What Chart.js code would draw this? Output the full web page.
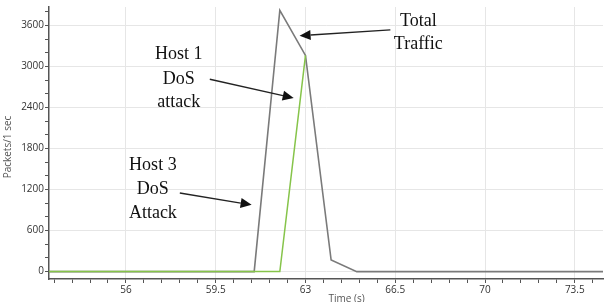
<!DOCTYPE html>
<html>
<head>
<meta charset="utf-8">
<script src="https://cdn.jsdelivr.net/npm/chart.js@4/dist/chart.umd.min.js"></script>
<style>
  html, body { margin: 0; padding: 0; background: #ffffff; }
  #wrap { width: 609px; height: 302px; position: relative; }
</style>
</head>
<body>
<div id="wrap"><canvas id="c" width="609" height="302"></canvas></div>
<script>
// ---- data ----
const timeSeconds   = [53, 54, 55, 56, 57, 58, 59, 60, 61, 62, 63, 64, 65, 66, 67, 68, 69, 70, 71, 72, 73, 74, 75];
const totalTraffic  = [0, 0, 0, 0, 0, 0, 0, 0, 0, 3820, 3160, 170, 0, 0, 0, 0, 0, 0, 0, 0, 0, 0, 0];
const host1Traffic  = [0, 0, 0, 0, 0, 0, 0, 0, 0, 0, 3160, null, null, null, null, null, null, null, null, null, null, null, null];
const xMajorTicks   = [56, 59.5, 63, 66.5, 70, 73.5];
const yMajorTicks   = [0, 600, 1200, 1800, 2400, 3000, 3600];
const xTitle = 'Time (s)';
const yTitle = 'Packets/1 sec';

// annotation texts and arrows (in data units)
const noteTexts = [
  { text: 'Host 1', t: 58.06, v: 3173 },
  { text: 'DoS',    t: 58.06, v: 2812 },
  { text: 'attack', t: 58.06, v: 2480 },
  { text: 'Host 3', t: 57.05, v: 1554 },
  { text: 'DoS',    t: 57.05, v: 1207 },
  { text: 'Attack', t: 57.05, v: 860 },
  { text: 'Total',  t: 67.40, v: 3665 },
  { text: 'Traffic',t: 67.40, v: 3318 }
];
const noteArrows = [
  { t1: 66.31, v1: 3535, t2: 62.77, v2: 3448 },
  { t1: 59.27, v1: 2812, t2: 62.54, v2: 2537 },
  { t1: 58.10, v1: 1149, t2: 60.90, v2: 976 }
];

// minor ticks
const xMinorStep = 0.7, yMinorStep = 200;
function buildTicks(min, max, step, anchor) {
  const out = [];
  const k0 = Math.ceil((min - anchor) / step - 1e-9);
  const k1 = Math.floor((max - anchor) / step + 1e-9);
  for (let k = k0; k <= k1; k++) out.push(+(anchor + k * step).toFixed(6));
  return out;
}
function isMajor(v, list) { return list.some(m => Math.abs(m - v) < 1e-6); }

const annotationPlugin = {
  id: 'notes',
  afterDraw(chart) {
    const ctx = chart.ctx, xs = chart.scales.x, ys = chart.scales.y, area = chart.chartArea;
    ctx.save();
    // axis titles
    ctx.fillStyle = '#555';
    ctx.font = '10px "Open Sans", "DejaVu Sans", sans-serif';
    ctx.textAlign = 'center';
    ctx.textBaseline = 'top';
    ctx.fillText(xTitle, xs.getPixelForValue(64.6), 294);
    ctx.save();
    ctx.translate(8, (area.top + area.bottom) / 2 + 4);
    ctx.rotate(-Math.PI / 2);
    ctx.textBaseline = 'middle';
    ctx.fillText(yTitle, 0, 0);
    ctx.restore();

    // notes
    ctx.fillStyle = '#111';
    ctx.font = '18px "Liberation Serif", "Times New Roman", serif';
    ctx.textAlign = 'center';
    ctx.textBaseline = 'middle';
    noteTexts.forEach(n => ctx.fillText(n.text, xs.getPixelForValue(n.t), ys.getPixelForValue(n.v)));

    // arrows
    ctx.strokeStyle = '#222';
    ctx.fillStyle = '#111';
    ctx.lineWidth = 1.3;
    noteArrows.forEach(a => {
      const x1 = xs.getPixelForValue(a.t1), y1 = ys.getPixelForValue(a.v1);
      const x2 = xs.getPixelForValue(a.t2), y2 = ys.getPixelForValue(a.v2);
      const ang = Math.atan2(y2 - y1, x2 - x1);
      const hl = 11, hw = 5;
      const bx = x2 - hl * Math.cos(ang), by = y2 - hl * Math.sin(ang);
      ctx.beginPath();
      ctx.moveTo(x1, y1);
      ctx.lineTo(bx, by);
      ctx.stroke();
      ctx.beginPath();
      ctx.moveTo(x2, y2);
      ctx.lineTo(bx + hw * Math.sin(ang), by - hw * Math.cos(ang));
      ctx.lineTo(bx - hw * Math.sin(ang), by + hw * Math.cos(ang));
      ctx.closePath();
      ctx.fill();
    });
    ctx.restore();
  }
};

const tickFont = { family: '"Open Sans", "DejaVu Sans", sans-serif', size: 10 };

new Chart(document.getElementById('c'), {
  type: 'line',
  data: {
    labels: timeSeconds,
    datasets: [
      {
        label: 'Host 1',
        data: timeSeconds.map((t, i) => ({ x: t, y: host1Traffic[i] })),
        borderColor: '#86c44a',
        borderWidth: 1.5,
        pointRadius: 0,
        tension: 0,
        spanGaps: false,
        order: 0
      },
      {
        label: 'Total',
        data: timeSeconds.map((t, i) => ({ x: t, y: totalTraffic[i] })),
        borderColor: '#7a7a7a',
        borderWidth: 1.6,
        pointRadius: 0,
        tension: 0,
        order: 1
      }
    ]
  },
  options: {
    responsive: false,
    animation: false,
    layout: { padding: { top: 4, right: 6, left: 0, bottom: 0 } },
    plugins: { legend: { display: false }, tooltip: { enabled: false } },
    scales: {
      x: {
        type: 'linear',
        min: 53,
        max: 74.6,
        afterBuildTicks(scale) {
          scale.ticks = buildTicks(53, 74.6, xMinorStep, 56).map(v => ({ value: v }));
        },
        afterFit(scale) { scale.height = 23; },
        ticks: {
          autoSkip: false,
          maxRotation: 0,
          padding: 1,
          color: '#333',
          font: tickFont,
          callback: v => isMajor(v, xMajorTicks) ? String(v) : ''
        },
        grid: {
          color: ctx => (ctx.tick && isMajor(ctx.tick.value, xMajorTicks)) ? '#e6e6e6' : 'rgba(0,0,0,0)',
          tickColor: '#555',
          tickLength: 4,
          lineWidth: 1
        },
        border: { color: '#555', width: 1.5 }
      },
      y: {
        type: 'linear',
        min: -108,
        max: 3868,
        afterBuildTicks(scale) {
          scale.ticks = buildTicks(-108, 3868, yMinorStep, 0).map(v => ({ value: v }));
        },
        afterFit(scale) { scale.width = 49; },
        ticks: {
          autoSkip: false,
          padding: 1,
          color: '#333',
          font: tickFont,
          callback: v => isMajor(v, yMajorTicks) ? String(v) : ''
        },
        grid: {
          color: ctx => (ctx.tick && isMajor(ctx.tick.value, yMajorTicks)) ? '#e6e6e6' : 'rgba(0,0,0,0)',
          tickColor: '#555',
          tickLength: 4,
          lineWidth: 1
        },
        border: { color: '#555', width: 1.5 }
      }
    }
  },
  plugins: [annotationPlugin]
});
</script>
</body>
</html>
